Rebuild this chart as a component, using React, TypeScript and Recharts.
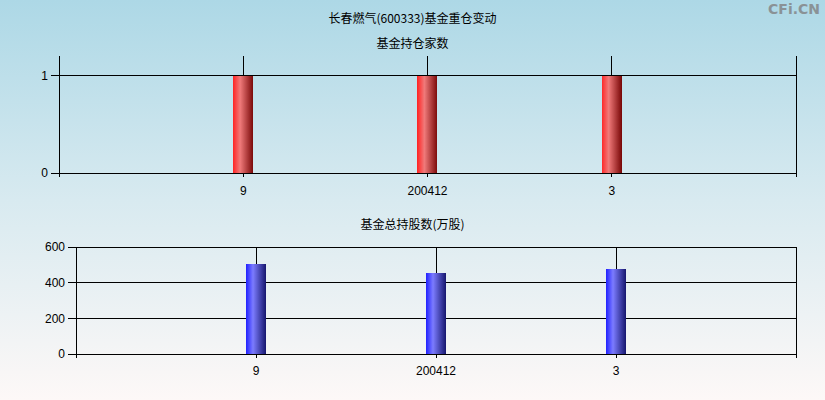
import { BarChart, Bar, XAxis, YAxis, CartesianGrid } from 'recharts';

const periods = ['', '9', '200412', '3', ''];
const fundCounts = [null, 1, 1, 1, null];
const totalShares = [null, 502, 457, 476, null];
const countTicks = [0, 1];
const shareTicks = [0, 200, 400, 600];

const countData = periods.map((name, i) => ({ name: name || ' '.repeat(i + 1), value: fundCounts[i] }));
const shareData = periods.map((name, i) => ({ name: name || ' '.repeat(i + 1), value: totalShares[i] }));

const tickStyle = { fontSize: 12, fill: '#000', fontFamily: '"Liberation Sans", Arial, sans-serif' };
const titleFont = '"Noto Sans CJK SC", sans-serif';

function Title({ text, top }: { text: string; top: number }) {
    return (
        <div style={{ position: 'absolute', left: 0, width: 825, top, textAlign: 'center', fontSize: 12, fontFamily: titleFont, color: '#000' }}>
            {text}
        </div>
    );
}

export default function App() {
    return (
        <div style={{ position: 'absolute', left: 0, top: 0, width: 825, height: 400, overflow: 'hidden', background: 'linear-gradient(to bottom, #add8e6 0%, #d8eaf0 50%, #fdf8f7 100%)' }}>
            <Title text="长春燃气(600333)基金重仓变动" top={9} />
            <Title text="基金持仓家数" top={34} />
            <Title text="基金总持股数(万股)" top={215} />
            <div style={{ position: 'absolute', right: 5, top: 1, fontSize: 14, fontWeight: 'bold', color: '#8a9296', fontFamily: '"DejaVu Sans", sans-serif' }}>CFi.CN</div>

            <svg width={0} height={0} style={{ position: 'absolute' }}>
                <defs>
                    <linearGradient id="redBar" x1="0" y1="0" x2="1" y2="0">
                        <stop offset="0%" stopColor="#ff2525" />
                        <stop offset="35%" stopColor="#f07a7a" />
                        <stop offset="100%" stopColor="#7a0808" />
                    </linearGradient>
                    <linearGradient id="blueBar" x1="0" y1="0" x2="1" y2="0">
                        <stop offset="0%" stopColor="#2020ff" />
                        <stop offset="35%" stopColor="#7c7cff" />
                        <stop offset="100%" stopColor="#16166e" />
                    </linearGradient>
                </defs>
            </svg>

            <div style={{ position: 'absolute', left: 0, top: 0 }}>
                <BarChart width={825} height={200} data={countData} margin={{ top: 56, right: 29, bottom: 0, left: 0 }} style={{ shapeRendering: 'crispEdges' }}>
                    <CartesianGrid stroke="#000" strokeWidth={1} horizontalValues={countTicks} />
                    <XAxis dataKey="name" scale="point" padding={{ left: 0, right: 0 }} interval={0} tickSize={4} tickMargin={9} height={27} axisLine={{ stroke: '#000' }} tickLine={{ stroke: '#000' }} tick={tickStyle} />
                    <YAxis domain={[0, 1.2]} ticks={countTicks} allowDataOverflow width={59} tickSize={8} tickMargin={3} axisLine={{ stroke: '#000' }} tickLine={{ stroke: '#000' }} tick={tickStyle} />
                    <Bar dataKey="value" barSize={20} fill="url(#redBar)" isAnimationActive={false} />
                </BarChart>
            </div>

            <div style={{ position: 'absolute', left: 0, top: 200 }}>
                <BarChart width={825} height={200} data={shareData} margin={{ top: 47, right: 29, bottom: 0, left: 0 }} style={{ shapeRendering: 'crispEdges' }}>
                    <CartesianGrid stroke="#000" strokeWidth={1} />
                    <XAxis dataKey="name" scale="point" padding={{ left: 0, right: 0 }} interval={0} tickSize={4} tickMargin={8} height={46} axisLine={{ stroke: '#000' }} tickLine={{ stroke: '#000' }} tick={tickStyle} />
                    <YAxis domain={[0, 600]} ticks={shareTicks} width={76} tickSize={8} tickMargin={3} axisLine={{ stroke: '#000' }} tickLine={{ stroke: '#000' }} tick={tickStyle} />
                    <Bar dataKey="value" barSize={20} fill="url(#blueBar)" isAnimationActive={false} />
                </BarChart>
            </div>
        </div>
    );
}
